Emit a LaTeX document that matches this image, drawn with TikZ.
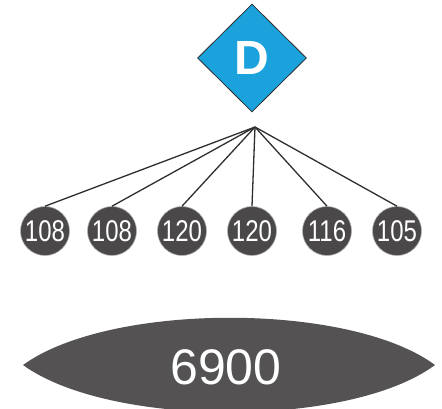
\documentclass[tikz,border=0pt]{standalone}
\usepackage{fontspec}
\setmainfont{Liberation Sans}
\newfontfamily\narrowfont[FakeStretch=0.8]{Liberation Sans}
\usetikzlibrary{shapes.geometric}
\definecolor{rootfill}{HTML}{1BA1DB}
\definecolor{leaffill}{HTML}{4A4849}
\definecolor{lensfill}{HTML}{545253}
\definecolor{stroke}{HTML}{2E2E2E}
\definecolor{ring}{HTML}{B0B0B0}

\begin{document}
\begin{tikzpicture}[
  x=1pt, y=-1pt,
  root/.style={diamond, draw=stroke, line width=0.8pt, fill=rootfill,
     minimum width=109pt, minimum height=108pt, inner sep=0pt,
     text=white, font=\fontsize{48}{48}\selectfont\bfseries},
  leaf/.style={circle, draw=ring, line width=0.6pt, fill=leaffill,
     minimum size=49pt, inner sep=0pt,
     text=white, font=\narrowfont\fontsize{30}{30}\selectfont},
  link/.style={line width=1.3pt, draw=stroke},
  total/.style={inner sep=0pt, text=white, font=\fontsize{50}{50}\selectfont},
]
\useasboundingbox (0,0) rectangle (442,408);
% --- rows (top -> bottom) ---
\def\yroot{58}
\def\yhub{127}
\def\yleaf{231}
\def\ylens{365}
% root and hub
\node[root] (d) at (252,\yroot) {D};
\coordinate (hub) at (255,\yhub);
% leaves
\node[leaf] (l1) at (45,\yleaf)  {108};
\node[leaf] (l2) at (112,\yleaf) {108};
\node[leaf] (l3) at (182,\yleaf) {120};
\node[leaf] (l4) at (252,\yleaf) {120};
\node[leaf] (l5) at (327,\yleaf) {116};
\node[leaf] (l6) at (397,\yleaf) {105};
% --- links ---
\foreach \i in {1,...,6}
  \draw[link] (hub) -- (l\i.north);
% lens with sum
\fill[lensfill] (23,\ylens) .. controls (110,302) and (350,302) .. (435,\ylens)
  .. controls (350,428) and (110,428) .. cycle;
\node[total] (sum) at (226,367) {6900};
\end{tikzpicture}
\end{document}
